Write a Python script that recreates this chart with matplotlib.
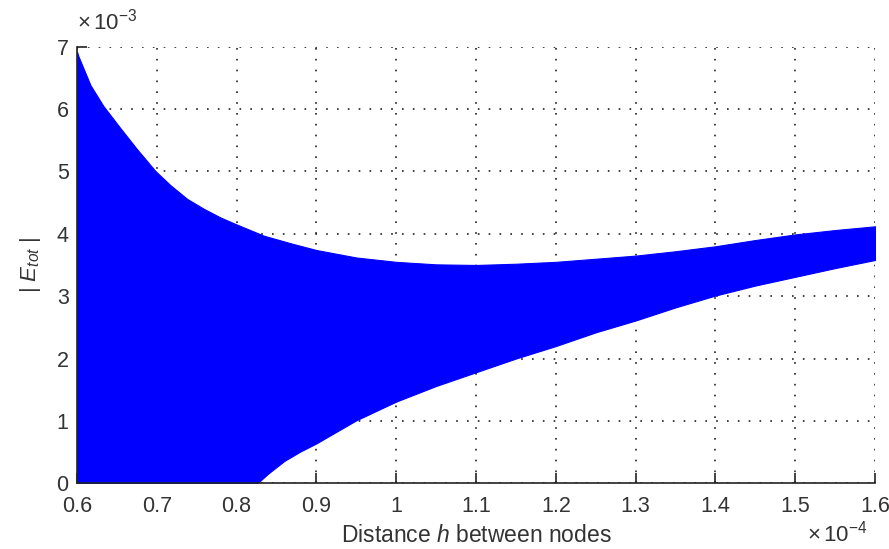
import matplotlib
matplotlib.use("Agg")
import matplotlib.pyplot as plt
import numpy as np

plt.rcParams['font.family'] = ['Liberation Sans', 'DejaVu Sans']
plt.rcParams['mathtext.fontset'] = 'custom'
plt.rcParams['mathtext.rm'] = 'Liberation Sans'
plt.rcParams['mathtext.it'] = 'Liberation Sans:italic'

# x in units of 1e-4, y in units of 1e-3
x_scale_exp = -4
y_scale_exp = -3

h_upper = [0.600, 0.602, 0.617, 0.633, 0.654, 0.675, 0.698, 0.717, 0.738, 0.759,
           0.780, 0.800, 0.834, 0.870, 0.900, 0.950, 1.000, 1.050, 1.100, 1.150, 1.200,
           1.250, 1.300, 1.350, 1.400, 1.450, 1.500, 1.550, 1.600]
e_upper = [6.92, 6.84, 6.38, 6.05, 5.70, 5.36, 5.01, 4.78, 4.56, 4.40,
           4.26, 4.15, 3.97, 3.84, 3.74, 3.62, 3.55, 3.51, 3.50, 3.52, 3.55,
           3.60, 3.65, 3.72, 3.80, 3.90, 3.99, 4.06, 4.12]

h_lower = [0.600, 0.826, 0.840, 0.860, 0.880, 0.900, 0.950, 1.000, 1.050, 1.100, 1.150, 1.200,
           1.250, 1.300, 1.350, 1.400, 1.450, 1.500, 1.550, 1.600]
e_lower = [0.00, 0.00, 0.16, 0.36, 0.51, 0.64, 1.01, 1.31, 1.56, 1.78, 2.00, 2.20,
           2.42, 2.61, 2.82, 3.01, 3.17, 3.31, 3.45, 3.58]

x_ticks = [0.6, 0.7, 0.8, 0.9, 1.0, 1.1, 1.2, 1.3, 1.4, 1.5, 1.6]
x_tick_labels = ['0.6', '0.7', '0.8', '0.9', '1', '1.1', '1.2', '1.3', '1.4', '1.5', '1.6']
y_ticks = [0, 1, 2, 3, 4, 5, 6, 7]

fig = plt.figure(figsize=(8.89, 5.49), dpi=100)
ax = fig.add_axes([0.0866, 0.1197, 0.8977, 0.7953])

hx = np.union1d(h_upper, h_lower)
up = np.interp(hx, h_upper, e_upper)
lo = np.interp(hx, h_lower, e_lower)
ax.fill_between(hx, lo, up, color=(0, 0, 1), linewidth=0.8, zorder=2)

ax.set_xlim(0.6, 1.6)
ax.set_ylim(0, 7)
ax.set_xticks(x_ticks)
ax.set_xticklabels(x_tick_labels)
ax.set_yticks(y_ticks)
ax.set_axisbelow(True)
ax.grid(True, color='#222222', linestyle=(0, (1, 5.5)), linewidth=1.2)
for s in ['top', 'right']:
    ax.spines[s].set_visible(False)
for s in ['left', 'bottom']:
    ax.spines[s].set_linewidth(1.2)
    ax.spines[s].set_color('#222222')
    ax.spines[s].set_zorder(3)
ax.tick_params(direction='in', length=7, width=1.2, labelsize=15.5, pad=6,
               colors='#222222', labelcolor='#333333')
ax.tick_params(axis='x', pad=9)

ax.set_xlabel('Distance $h$ between nodes', fontsize=16.5, labelpad=5, color='#333333')
ax.set_ylabel(r'$|\ E_{tot}\ |$', fontsize=16, labelpad=10, color='#333333')

fig.text(0.0866, 0.937, r'$\times\,10^{%d}$' % y_scale_exp, fontsize=16, ha='left',
         va='bottom', color='#333333')
fig.text(0.975, 0.005, r'$\times\,10^{%d}$' % x_scale_exp, fontsize=16, ha='right',
         va='bottom', color='#333333')

fig.savefig('out.png', dpi=100)
